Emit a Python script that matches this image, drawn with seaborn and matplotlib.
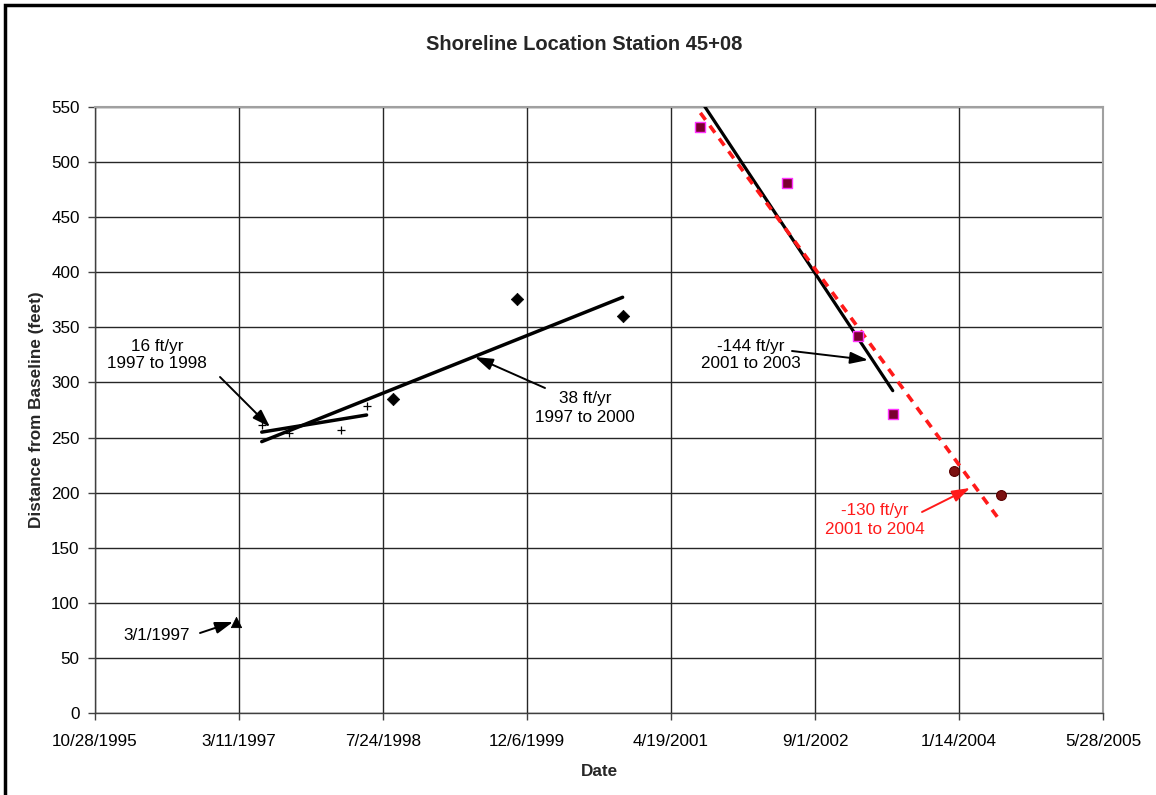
import numpy as np
import pandas as pd
import matplotlib
matplotlib.use("Agg")
import matplotlib.pyplot as plt
import matplotlib.dates as mdates
from matplotlib.ticker import FuncFormatter, FixedLocator, MultipleLocator
from matplotlib.patches import Rectangle
import seaborn as sns

# ---------------- data ----------------
tri_dates = ["1997-03-01"]
tri_vals = [83]

plus_dates = ["1997-05-29", "1997-09-01", "1998-02-27", "1998-05-28"]
plus_vals = [261, 254, 257, 279]

diam_dates = ["1998-08-29", "1999-10-31", "2000-11-02"]
diam_vals = [285, 376, 360]

sq_dates = ["2001-07-30", "2002-05-28", "2003-01-29", "2003-05-29"]
sq_vals = [532, 481, 342, 271]

circ_dates = ["2003-12-27", "2004-06-07"]
circ_vals = [220, 198]

tick_labels = ["10/28/1995", "3/11/1997", "7/24/1998", "12/6/1999",
               "4/19/2001", "9/1/2002", "1/14/2004", "5/28/2005"]

annot_texts = ["16 ft/yr\n1997 to 1998", "38 ft/yr\n1997 to 2000",
               "-144 ft/yr\n2001 to 2003", "-130 ft/yr\n2001 to 2004", "3/1/1997"]

# ---------------- style ----------------
sns.set_theme(style="white")
plt.rcParams["font.family"] = ["Liberation Sans", "DejaVu Sans"]

W, H = 1156, 795
fig = plt.figure(figsize=(W / 100, H / 100), dpi=100)
L, R, T, B = 95, 1103, 107, 713
ax = fig.add_axes([L / W, 1 - B / H, (R - L) / W, (B - T) / H])

# outer chart border (top & left visible)
fig.patches.append(Rectangle((5 / W, -0.05), 1.2, (795 - 5) / H + 0.05,
                             transform=fig.transFigure, fill=False,
                             edgecolor="black", linewidth=2.5, zorder=0))


def to_num(ds):
    return mdates.date2num(pd.to_datetime(ds))


tick_dt = pd.to_datetime(tick_labels, format="%m/%d/%Y")
tick_num = mdates.date2num(tick_dt)

df_tri = pd.DataFrame({"x": to_num(tri_dates), "y": tri_vals})
df_plus = pd.DataFrame({"x": to_num(plus_dates), "y": plus_vals})
df_diam = pd.DataFrame({"x": to_num(diam_dates), "y": diam_vals})
df_sq = pd.DataFrame({"x": to_num(sq_dates), "y": sq_vals})
df_circ = pd.DataFrame({"x": to_num(circ_dates), "y": circ_vals})

# grid
ax.set_xlim(tick_num[0], tick_num[-1])
ax.set_ylim(0, 550)
ax.xaxis.set_major_locator(FixedLocator(tick_num))
ax.xaxis.set_major_formatter(FuncFormatter(
    lambda v, p: tick_labels[int(np.argmin(np.abs(tick_num - v)))]))
ax.yaxis.set_major_locator(MultipleLocator(50))
ax.grid(True, color="#262626", linewidth=1.0)
ax.set_axisbelow(True)

for s in ["left", "bottom"]:
    ax.spines[s].set_color("#404040")
    ax.spines[s].set_linewidth(1.0)
for s in ["top", "right"]:
    ax.spines[s].set_color("#a0a0a0")
    ax.spines[s].set_linewidth(1.5)
ax.tick_params(axis="both", which="major", direction="out", length=5,
               width=1, color="#404040", labelsize=12.3, labelcolor="black",
               left=True, bottom=True)
ax.tick_params(axis="x", pad=10)
ax.tick_params(axis="y", pad=6)

# markers
sns.scatterplot(data=df_tri, x="x", y="y", marker="^", s=55, color="black",
                edgecolor="black", ax=ax, zorder=5)
sns.scatterplot(data=df_plus, x="x", y="y", marker="+", s=40, color="black",
                linewidth=0.9, ax=ax, zorder=5)
sns.scatterplot(data=df_diam, x="x", y="y", marker="D", s=40, color="black",
                edgecolor="black", ax=ax, zorder=5)
sns.scatterplot(data=df_sq, x="x", y="y", marker="s", s=60, color="#7a0030",
                edgecolor="#ff33ff", linewidth=1.0, ax=ax, zorder=5)
sns.scatterplot(data=df_circ, x="x", y="y", marker="o", s=50, color="#7a1010",
                edgecolor="#5a0000", linewidth=0.8, ax=ax, zorder=5)


def trend(df):
    k, b = np.polyfit(df["x"], df["y"], 1)
    xs = np.array([df["x"].min(), df["x"].max()])
    return pd.DataFrame({"x": xs, "y": k * xs + b})


t16 = trend(df_plus)
t38 = trend(pd.concat([df_plus, df_diam]))
t144 = trend(df_sq)
t130 = trend(pd.concat([df_sq, df_circ]))

sns.lineplot(data=t16, x="x", y="y", color="black", linewidth=2.5, ax=ax, zorder=4)
sns.lineplot(data=t38, x="x", y="y", color="black", linewidth=2.5, ax=ax, zorder=4)
sns.lineplot(data=t144, x="x", y="y", color="black", linewidth=2.3, ax=ax, zorder=4)
ax.plot(t130["x"], t130["y"], color="#ff1a1a", linewidth=2.6,
        dashes=(2.4, 2.0), zorder=4)

ax.set_xlabel("Date", fontsize=12.3, fontweight="bold", labelpad=11)
ax.set_ylabel("Distance from Baseline (feet)", fontsize=12.3,
              fontweight="bold", labelpad=5)
fig.text(584 / W, 1 - 45 / H, "Shoreline Location Station 45+08",
         ha="center", va="center", fontsize=14.5, fontweight="bold")


# annotations (pixel layout -> axes fraction)
def af(px, py):
    return ((px - L) / (R - L), (B - py) / (B - T))


annots = [
    (annot_texts[0], (157, 355), (220, 377), (270, 427), "black"),
    (annot_texts[1], (585, 408), (545, 388), (475, 357), "black"),
    (annot_texts[2], (751, 355), (792, 351), (868, 360), "black"),
    (annot_texts[3], (875, 520), (922, 512), (970, 488), "#ff1a1a"),
    (annot_texts[4], (157, 635), (200, 633), (233, 622), "black"),
]
for txt, tpos, tail, head, col in annots:
    ax.text(*af(*tpos), txt, transform=ax.transAxes, ha="center",
            va="center", fontsize=12.3, color=col, linespacing=1.25, zorder=6)
    ax.annotate("", xy=af(*head), xytext=af(*tail), xycoords="axes fraction",
                textcoords="axes fraction",
                arrowprops=dict(arrowstyle="-|>,head_length=0.9,head_width=0.3",
                                color=col, lw=1.4, shrinkA=0, shrinkB=0),
                zorder=6)

fig.savefig("out.png", dpi=100)
